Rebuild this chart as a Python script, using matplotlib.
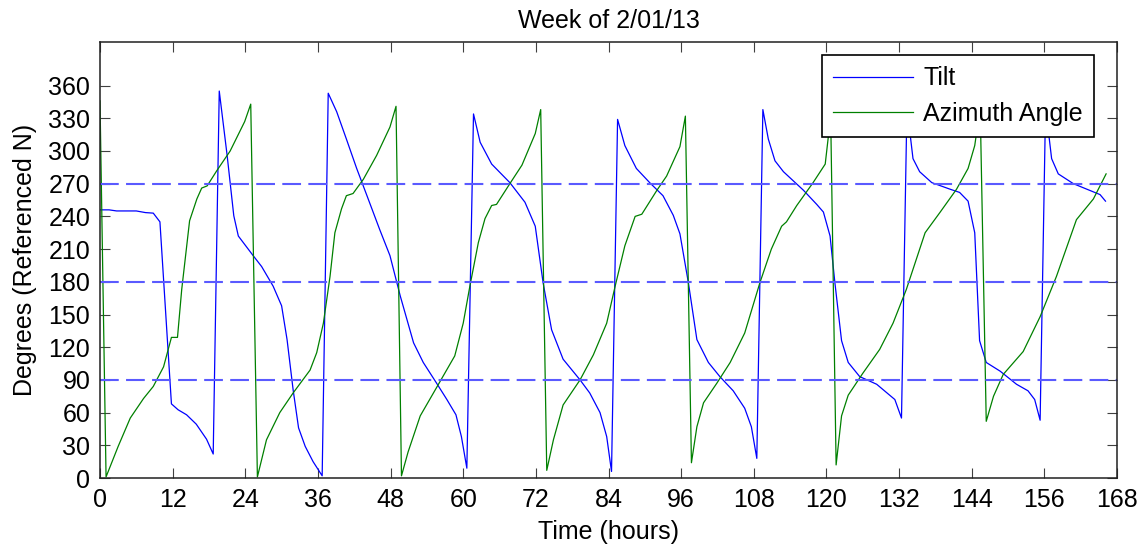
import numpy as np
import matplotlib
matplotlib.use("Agg")
import matplotlib.pyplot as plt

plt.rcParams['font.family'] = ['Liberation Sans', 'DejaVu Sans']

# Tilt samples (hours, degrees)
tilt_t = [0.0, 1.5, 2.75, 6.0, 7.5, 8.8, 9.9, 11.8, 12.9, 14.3, 15.9, 17.6, 18.7,
          19.7, 21.0, 22.1, 22.85, 25.3, 26.7, 28.6, 30.0, 30.9, 31.9, 32.8, 33.9, 35.2, 36.7,
          37.7, 39.1, 40.7, 42.4, 44.1, 46.2, 47.9, 49.6, 51.8, 53.4, 55.6, 57.3, 58.8, 59.7, 60.6,
          61.7, 62.8, 64.7, 67.7, 70.2, 71.9, 73.2, 74.6, 76.5, 79.3, 80.9, 82.6, 83.7, 84.5,
          85.5, 86.7, 88.6, 90.8, 93.0, 94.7, 95.8, 97.2, 98.6, 100.5, 102.4, 104.6, 106.5, 107.6, 108.5,
          109.5, 110.4, 111.5, 112.9, 116.2, 118.4, 119.5, 120.6, 121.4, 122.5, 123.6, 125.5, 128.3, 131.3, 132.4,
          133.3, 134.3, 135.4, 137.4, 140.4, 142.0, 143.4, 144.5, 145.3, 146.4, 148.7, 151.4, 153.3, 154.4, 155.3,
          156.2, 157.2, 158.3, 160.8, 163.0, 165.2, 166.1]
tilt_v = [246, 246, 245, 245, 243.5, 243, 235, 68, 62.6, 58, 49.4, 35.6, 22,
          355, 296, 240.6, 222, 204, 194, 176, 158, 127, 81, 46, 29, 15, 2,
          353, 336, 311, 284, 259, 228, 204, 167, 124, 106, 87, 72, 58, 38, 9,
          334, 308, 288, 271, 253, 231, 179, 136, 109, 90, 78, 60, 38, 6,
          329, 305, 284, 271, 259, 241, 224, 179, 127, 106, 93, 80, 64, 47, 18,
          338, 311, 291, 281, 264, 251, 244, 222, 179, 126, 106, 93, 86, 72, 55,
          340, 293, 281, 271, 265, 262, 254, 225, 126, 106, 98, 86, 80, 72, 53,
          340, 293, 279, 270, 265, 260, 254]

# Azimuth samples (hours, degrees)
azim_t = [0.0, 1.0, 3.0, 5.0, 7.2, 8.8, 10.5, 11.8, 12.8, 13.5, 14.8, 16.0, 16.8, 17.7, 19.3, 21.5, 23.9, 24.9,
          26.0, 27.5, 29.7, 31.9, 34.7, 35.8, 36.9, 38.0, 38.8, 39.9, 40.7, 41.8, 43.5, 45.7, 47.9, 48.9,
          49.8, 50.9, 52.9, 55.6, 58.6, 60.0, 61.1, 62.5, 63.6, 64.7, 65.5, 67.7, 69.7, 71.9, 72.8,
          73.8, 74.9, 76.5, 79.3, 81.5, 83.7, 85.1, 86.7, 88.4, 89.5, 92.0, 93.6, 95.8, 96.7,
          97.7, 98.6, 99.7, 101.9, 104.1, 106.5, 109.0, 110.9, 112.6, 113.4, 115.1, 117.8, 119.8, 120.7,
          121.6, 122.5, 123.6, 126.0, 128.8, 131.0, 133.2, 136.3, 138.8, 141.5, 143.4, 144.5, 145.4,
          146.4, 147.6, 149.2, 152.5, 155.3, 158.0, 161.3, 164.1, 166.2]
azim_v = [346, 1, 29, 55, 73, 84, 102, 129, 129, 173, 236, 256, 266, 268, 282, 300, 327, 343,
          1, 35, 60, 78, 99, 115, 142, 185, 225, 247, 259, 261, 274, 296, 322, 341,
          2, 24, 57, 83, 112, 142, 176, 216, 238, 250, 251, 270, 287, 316, 338,
          7, 35, 67, 90, 113, 142, 176, 213, 240, 242, 264, 277, 304, 332,
          14, 47, 69, 87, 106, 133, 179, 210, 231, 235, 250, 271, 288, 332,
          12, 57, 76, 96, 118, 142, 173, 225, 244, 265, 284, 305, 340,
          52, 75, 95, 116, 148, 185, 237, 256, 279]

ref_levels = [90, 180, 270]
x_ticks = list(range(0, 169, 12))
y_ticks = list(range(0, 361, 30))

fig = plt.figure(figsize=(11.41, 5.5), dpi=100)
ax = fig.add_axes([100 / 1141, 72 / 550, 1017 / 1141, 436 / 550])

ax.plot(tilt_t, tilt_v, color='#0000ff', lw=0.9, label='Tilt')
ax.plot(azim_t, azim_v, color='#008000', lw=0.9, label='Azimuth Angle')
for lvl in ref_levels:
    ax.axhline(lvl, color='#5a5aff', lw=1.5, linestyle=(0, (9, 3.5)))

ax.set_xlim(0, 168)
ax.set_ylim(0, 400)
ax.set_xticks(x_ticks)
ax.set_yticks(y_ticks)
ax.tick_params(direction='in', length=7, width=0.8, color='#404040',
               top=True, right=True, labelsize=18, pad=7)
for s in ax.spines.values():
    s.set_linewidth(1.1)
    s.set_color('#202020')

ax.set_title('Week of 2/01/13', fontsize=18, pad=10)
ax.set_xlabel('Time (hours)', fontsize=18, labelpad=6)
ax.set_ylabel('Degrees (Referenced N)', fontsize=18, labelpad=8)

leg = ax.legend(loc='upper right', bbox_to_anchor=(0.9774, 0.970), borderaxespad=0,
                fontsize=18, fancybox=False, framealpha=1, edgecolor='black',
                handlelength=3.2, handletextpad=0.4, labelspacing=0.45, borderpad=0.45)
leg.get_frame().set_linewidth(1.2)

fig.savefig('out.png', dpi=100)
